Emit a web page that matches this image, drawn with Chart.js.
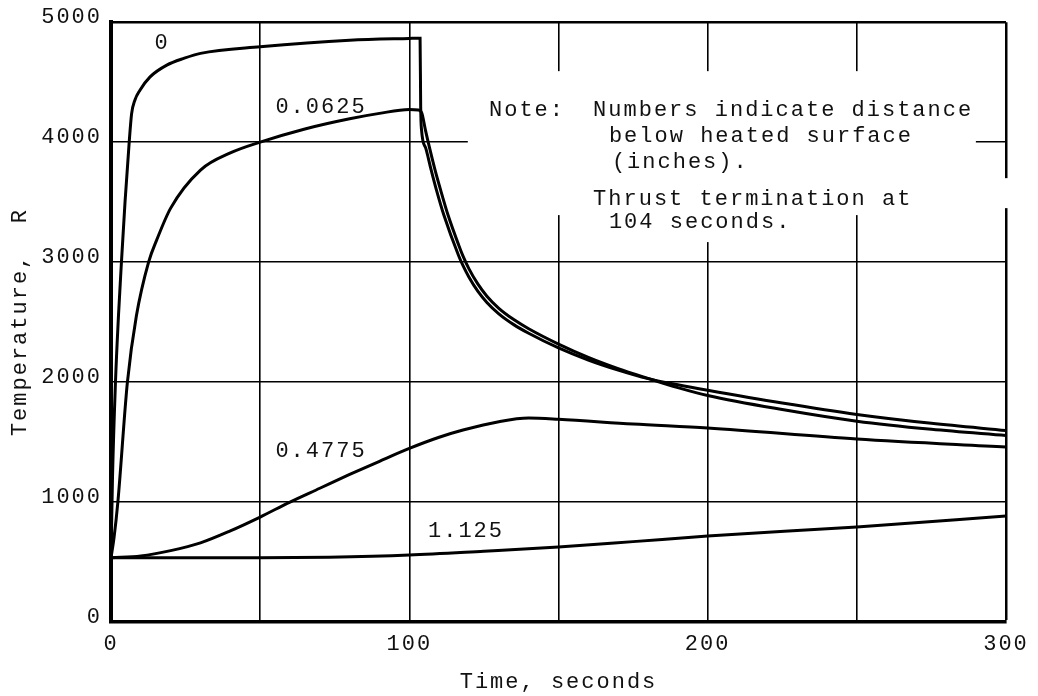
<!DOCTYPE html>
<html>
<head>
<meta charset="utf-8">
<script src="https://cdn.jsdelivr.net/npm/chart.js@4/dist/chart.umd.min.js"></script>
<style>
html,body{margin:0;padding:0;background:#fff;}
#wrap{width:1038px;height:696px;position:relative;}
</style>
</head>
<body>
<div id="wrap"><canvas id="c" width="1038" height="696"></canvas></div>
<script>
// ---- data ----
const seriesNames = ['0', '0.0625', '0.4775', '1.125'];

// depth 0 (heated surface)
const time0 = [0, 0.5, 1.5, 2.5, 3.5, 4.7, 6.1, 6.9, 8, 9.7, 13.1, 18.7, 24.6, 30, 50, 80, 100, 103.6,
               103.8, 104.1, 105.5, 107.2, 109.1, 111.6, 116.5, 118, 120, 123, 126, 130, 135, 140, 150, 160, 170, 180, 190, 200, 225, 250, 275, 300];
const temp0 = [535, 1200, 2000, 2550, 3000, 3500, 4000, 4236, 4350, 4433, 4544, 4642, 4700, 4740, 4795, 4850, 4865, 4867,
               4300, 4100, 3950, 3780, 3600, 3390, 3055, 2970, 2874, 2756, 2664, 2569, 2479, 2407, 2285, 2184, 2100, 2029, 1978, 1932, 1825, 1730, 1656, 1596];

// depth 0.0625 in
const time1 = [0, 1, 2.3, 5.5, 8.5, 12.6, 15.3, 20, 30, 40, 50, 65, 80, 90, 100, 103, 104.2, 105.4, 106.8, 108.5, 110.5, 113, 116.5,
               118, 120, 123, 126, 130, 135, 140, 150, 160, 170, 180, 190, 200, 225, 250, 275, 300];
const temp1 = [535, 700, 1000, 2000, 2550, 3000, 3183, 3450, 3767, 3910, 4000, 4110, 4195, 4240, 4272, 4268, 4240, 4100, 3950, 3780, 3600, 3390, 3145,
               3050, 2944, 2816, 2716, 2615, 2521, 2445, 2317, 2206, 2112, 2031, 1954, 1888, 1771, 1674, 1606, 1554];

// depth 0.4775 in
const time2 = [0, 10, 20, 30, 40, 50, 60, 70, 80, 90, 100, 110, 118, 130, 140, 150, 175, 200, 250, 300];
const temp2 = [535, 550, 595, 660, 760, 875, 1000, 1115, 1230, 1340, 1447, 1540, 1600, 1670, 1700, 1690, 1650, 1617, 1525, 1458];

// depth 1.125 in
const time3 = [0, 50, 73, 100, 125, 150, 175, 200, 250, 300];
const temp3 = [535, 535, 540, 558, 590, 625, 670, 717, 792, 883];

const xTickValues = [0, 100, 200, 300];
const yTickValues = [0, 1000, 2000, 3000, 4000, 5000];

const xTitle = 'Time, seconds';
const yTitle = 'Temperature,  R';

// curve labels: text with anchor (seconds, degrees R)
const curveLabelText = ['0', '0.0625', '0.4775', '1.125'];
const curveLabelAt = [[17.1, 4825], [70.4, 4288], [70.4, 1425], [119, 758]];

// note block
const noteText = ['Note:', 'Numbers indicate distance', 'below heated surface', '(inches).', 'Thrust termination at', '104 seconds.'];
const noteAt = [[126.7, 4267], [161.6, 4267], [166.9, 4054], [167.9, 3833], [161.6, 3521], [166.9, 3336]];

// areas where the grid is interrupted by the note (seconds / degrees R)
const gridGaps = [[119.6, 289.9, 3392, 4592], [190, 210, 3167, 3392], [297, 303, 3450, 3700]];

// ---- chart ----
const MONO = '"Liberation Mono", "DejaVu Sans Mono", monospace';
function pts(t, v) { return t.map((x, i) => ({x: x, y: v[i]})); }

const overlay = {
  id: 'overlay',
  beforeDraw(chart) {
    chart.ctx.letterSpacing = '2px';
  },
  beforeDatasetsDraw(chart) {
    const {ctx, scales: {x, y}} = chart;
    ctx.save();
    ctx.fillStyle = '#fff';
    gridGaps.forEach(g => {
      const x0 = x.getPixelForValue(g[0]), x1 = x.getPixelForValue(g[1]);
      const y0 = y.getPixelForValue(g[3]), y1 = y.getPixelForValue(g[2]);
      ctx.fillRect(x0, y0, x1 - x0, y1 - y0);
    });
    ctx.restore();
  },
  afterDatasetsDraw(chart) {
    const {ctx, scales: {x, y}} = chart;
    ctx.save();
    ctx.letterSpacing = '2px';
    ctx.fillStyle = '#111';
    ctx.font = '22px ' + MONO;
    ctx.textBaseline = 'middle';
    ctx.textAlign = 'center';
    curveLabelText.forEach((s, i) => {
      ctx.fillText(s, x.getPixelForValue(curveLabelAt[i][0]), y.getPixelForValue(curveLabelAt[i][1]));
    });
    ctx.textAlign = 'left';
    noteText.forEach((s, i) => {
      ctx.fillText(s, x.getPixelForValue(noteAt[i][0]), y.getPixelForValue(noteAt[i][1]));
    });
    ctx.restore();
  }
};

const dsStyle = {borderColor: '#000', borderWidth: 3, pointRadius: 0, fill: false, cubicInterpolationMode: 'monotone'};

new Chart(document.getElementById('c'), {
  type: 'line',
  data: {
    datasets: [
      Object.assign({label: seriesNames[0], data: pts(time0, temp0)}, dsStyle),
      Object.assign({label: seriesNames[1], data: pts(time1, temp1)}, dsStyle),
      Object.assign({label: seriesNames[2], data: pts(time2, temp2)}, dsStyle),
      Object.assign({label: seriesNames[3], data: pts(time3, temp3)}, dsStyle)
    ]
  },
  options: {
    responsive: false,
    animation: false,
    layout: {padding: {top: 22, right: 32, left: 0, bottom: 0}},
    plugins: {legend: {display: false}, tooltip: {enabled: false}},
    scales: {
      x: {
        type: 'linear', min: 0, max: 300,
        afterFit(s) { s.height = 74; },
        afterBuildTicks(s) { s.ticks = [0, 50, 100, 150, 200, 250, 300].map(v => ({value: v})); },
        ticks: {
          color: '#111', padding: 9, maxRotation: 0, autoSkip: false,
          font: {family: MONO, size: 22},
          callback: v => xTickValues.includes(v) ? String(v) : ''
        },
        grid: {
          color: '#000', drawTicks: false,
          lineWidth: c => (c.tick && c.tick.value === 300) ? 2.5 : 1.6
        },
        border: {display: true, color: '#000', width: 3.5},
        title: {display: true, text: xTitle, color: '#111', font: {family: MONO, size: 22}, padding: {top: 0, bottom: 1}}
      },
      y: {
        type: 'linear', min: 0, max: 5000,
        afterFit(s) { s.width = 111; },
        afterBuildTicks(s) { s.ticks = yTickValues.map(v => ({value: v})); },
        ticks: {
          color: '#111', padding: 9, labelOffset: -5,
          font: {family: MONO, size: 22},
          callback: v => String(v)
        },
        grid: {
          color: '#000', drawTicks: false,
          lineWidth: c => (c.tick && c.tick.value === 5000) ? 2.5 : 1.6
        },
        border: {display: true, color: '#000', width: 4},
        title: {display: true, text: yTitle, color: '#111', font: {family: MONO, size: 22}, padding: {top: 7, bottom: 0}}
      }
    }
  },
  plugins: [overlay]
});
</script>
</body>
</html>
